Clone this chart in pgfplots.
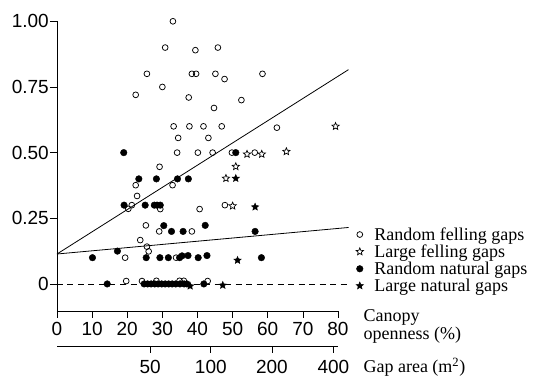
\documentclass[border=0pt]{standalone}
\usepackage{pgfplots}
\pgfplotsset{compat=1.18}
\usepackage{fontspec}
\setmainfont{Liberation Serif}
\newfontfamily\arialfont{Liberation Sans}
\pgfdeclareplotmark{star5}{%
  \pgfpathmoveto{\pgfpointpolar{90}{\pgfplotmarksize}}%
  \pgfpathlineto{\pgfpointpolar{126}{0.45\pgfplotmarksize}}%
  \pgfpathlineto{\pgfpointpolar{162}{\pgfplotmarksize}}%
  \pgfpathlineto{\pgfpointpolar{198}{0.45\pgfplotmarksize}}%
  \pgfpathlineto{\pgfpointpolar{234}{\pgfplotmarksize}}%
  \pgfpathlineto{\pgfpointpolar{270}{0.45\pgfplotmarksize}}%
  \pgfpathlineto{\pgfpointpolar{306}{\pgfplotmarksize}}%
  \pgfpathlineto{\pgfpointpolar{342}{0.45\pgfplotmarksize}}%
  \pgfpathlineto{\pgfpointpolar{18}{\pgfplotmarksize}}%
  \pgfpathlineto{\pgfpointpolar{54}{0.45\pgfplotmarksize}}%
  \pgfpathclose
  \pgfusepathqfillstroke
}
\begin{document}
\begin{tikzpicture}
\path[use as bounding box] (-57pt,-68pt) rectangle (478pt,311pt);
\begin{axis}[
  at={(0,0)}, anchor=south west,
  scale only axis, width=281pt, height=289.7pt,
  xmin=0, xmax=80, ymin=-0.103, ymax=1.0,
  axis x line*=bottom, axis y line*=left,
  axis line style={-, line width=0.7pt},
  clip=false,
  tick align=outside, major tick length=7pt,
  tick style={line width=0.7pt, black},
  xtick={0,10,...,80}, xticklabels={0,10,20,30,40,50,60,70,80},
  ytick={0,0.25,0.5,0.75,1}, yticklabels={0,0.25,0.50,0.75,1.00},
  ticklabel style={font=\arialfont\fontsize{19}{19}\selectfont},
  yticklabel style={inner sep=1pt},
  xticklabel style={inner sep=4pt},
  legend style={at={(1.064,0.296)}, anchor=north west, draw=none, fill=none,
    font=\fontsize{18}{18}\selectfont, row sep=-1pt, inner sep=0pt,
    /tikz/every odd column/.append style={column sep=9pt}},
  legend cell align=left,
]
% regression and zero lines
\addplot[forget plot, line width=0.8pt] coordinates {(0,0.114) (83,0.816)};
\addplot[forget plot, line width=0.8pt] coordinates {(0,0.114) (83,0.215)};
\addplot[forget plot, line width=0.7pt, dash pattern=on 6pt off 4.5pt] coordinates {(0,0) (83,0)};
% Random felling gaps (open circles)
\addplot[only marks, mark=o, mark size=2.9pt, mark options={line width=0.75pt, fill=white}] coordinates {
(33.0,1.00) (30.8,0.90) (39.4,0.89) (45.8,0.90) (25.6,0.80) (38.4,0.80) (39.6,0.80)
(45.1,0.80) (47.7,0.78) (58.5,0.80) (30.0,0.75) (22.4,0.72) (37.5,0.71) (52.5,0.70)
(44.7,0.67) (33.2,0.60) (37.7,0.60) (41.7,0.60) (46.9,0.60) (62.6,0.595) (34.5,0.556)
(43.1,0.556) (34.2,0.50) (40.1,0.50) (44.3,0.50) (49.8,0.50) (56.3,0.50) (29.2,0.446)
(32.9,0.376) (22.4,0.376) (22.8,0.335) (21.3,0.30) (20.3,0.286) (29.4,0.285) (40.6,0.285)
(47.8,0.30) (25.3,0.223) (29.1,0.20) (38.4,0.20) (23.7,0.167) (25.6,0.142) (26.1,0.124)
(19.4,0.10) (33.9,0.10) (19.7,0.011) (24.2,0.011) (28.3,0.012) (34.9,0.012) (36.1,0.012)
(42.9,0.011)
};
\addlegendentry{Random felling gaps}
% Large felling gaps (open stars)
\addplot[only marks, mark=star5, mark size=3.8pt, mark options={line width=0.7pt, fill=white}] coordinates {
(54.1,0.494) (58.3,0.494) (65.3,0.504) (50.9,0.447) (48.1,0.402) (50.0,0.297) (79.3,0.60)
};
\addlegendentry{Large felling gaps}
% Random natural gaps (filled circles)
\addplot[only marks, mark=*, mark size=3.3pt, mark options={fill=black}] coordinates {
(19.0,0.50) (23.3,0.40) (28.3,0.40) (34.3,0.40) (37.4,0.40) (50.9,0.50)
(19.1,0.30) (25.1,0.30) (27.7,0.30) (28.5,0.30) (29.4,0.30)
(30.4,0.222) (32.6,0.20) (35.9,0.20) (42.2,0.223) (56.4,0.20)
(17.2,0.125) (10.1,0.10) (25.4,0.10) (29.3,0.10) (31.7,0.10) (34.9,0.10) (35.6,0.107)
(37.3,0.108) (40.2,0.10) (42.7,0.108) (58.2,0.10)
(14.3,0) (24.8,0) (25.8,0) (26.8,0) (27.8,0) (28.8,0) (29.8,0) (30.8,0) (31.8,0)
(32.8,0) (33.8,0) (35.0,0) (36.2,0) (37.0,0) (41.8,0)
};
\addlegendentry{Random natural gaps}
% Large natural gaps (filled stars)
\addplot[only marks, mark=star5, mark size=3.8pt, mark options={line width=0.5pt, fill=black}] coordinates {
(50.9,0.402) (56.4,0.293) (51.4,0.09) (37.9,-0.008) (47.2,-0.005)
};
\addlegendentry{Large natural gaps}
\end{axis}
\begin{axis}[
  at={(0,-35pt)}, anchor=south west,
  scale only axis, width=281pt, height=10pt,
  xmin=0, xmax=80, ymin=0, ymax=1,
  axis x line*=bottom, axis y line=none,
  axis line style={-, line width=0.7pt},
  tick align=outside, major tick length=7pt,
  tick style={line width=0.7pt, black},
  xtick={26.5,43.8,61.2,78.7}, xticklabels={50,100,200,400},
  ticklabel style={font=\arialfont\fontsize{19}{19}\selectfont},
  xticklabel style={inner sep=7pt},
]
\end{axis}
\node[anchor=west, align=left, font=\fontsize{18}{18}\selectfont] at (303pt,-15pt) {Canopy\\openness (\%)};
\node[anchor=west, font=\fontsize{18}{18}\selectfont] at (303pt,-56pt) {Gap area (m\textsuperscript{2})};
\end{tikzpicture}
\end{document}
